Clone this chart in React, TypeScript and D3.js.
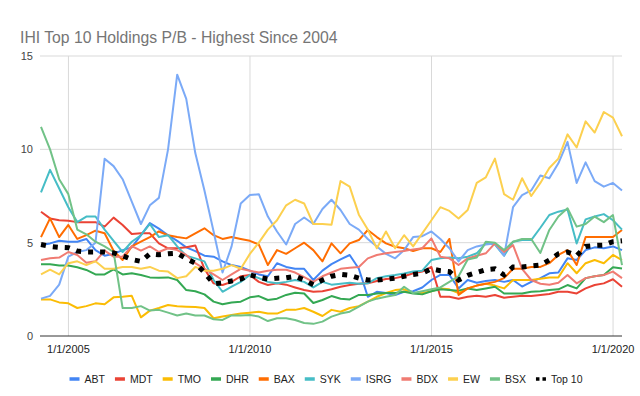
import * as d3 from "d3";

const W = 640;
const H = 396;
const PLOT = { left: 41, right: 622, top: 56, bottom: 336 };
const FONT = "'Liberation Sans', Arial, sans-serif";

// quarter-end dates, 3/31/2004 .. 3/31/2020
const FIRST_MONTH = new Date(2004, 3, 1);
const LAST_MONTH = new Date(2020, 4, 1);
const quarterEnds = d3.timeMonth
  .every(3)!
  .range(FIRST_MONTH, LAST_MONTH)
  .map((d) => d3.timeDay.offset(d, -1));

const ABT = [4.87, 4.96, 5.1, 5.05, 5.05, 5.2, 4.6, 4.3, 4.4, 4.6,
  4.75, 5.4, 6.05, 5.75, 5.4, 5.1, 4.75, 4.55, 4.3, 4.25,
  4.0, 3.8, 3.7, 3.5, 3.3, 3.2, 3.9, 3.7, 3.6, 3.6,
  3.0, 3.5, 3.85, 4.1, 4.34, 3.6, 2.1, 2.37, 2.3, 2.2,
  2.37, 2.4, 2.6, 3.0, 3.27, 3.27, 2.55, 3.0, 2.85, 2.95,
  3.0, 2.9, 3.0, 2.65, 2.9, 3.1, 3.36, 3.4, 4.16, 4.07,
  4.6, 4.75, 4.7, 4.8, 4.6];
const MDT = [6.66, 6.3, 6.2, 6.18, 6.1, 6.1, 6.1, 5.86, 6.34, 5.95,
  5.46, 5.5, 5.5, 4.96, 4.7, 4.7, 4.75, 4.85, 3.6, 2.82,
  2.73, 2.9, 3.2, 3.27, 2.9, 2.73, 2.82, 2.75, 2.6, 2.46,
  2.37, 2.4, 2.5, 2.64, 2.73, 2.8, 2.82, 2.95, 3.05, 3.1,
  3.2, 3.36, 3.45, 3.7, 2.1, 2.1, 2.0, 2.1, 2.15, 2.1,
  2.2, 2.05, 2.1, 2.15, 2.14, 2.2, 2.25, 2.37, 2.37, 2.28,
  2.55, 2.73, 2.82, 3.04, 2.64];
const TMO = [1.96, 1.96, 1.8, 1.75, 1.5, 1.6, 1.75, 1.7, 2.07, 2.1,
  2.15, 1.0, 1.36, 1.5, 1.66, 1.6, 1.57, 1.55, 1.5, 0.95,
  1.04, 1.13, 1.2, 1.25, 1.3, 1.2, 1.2, 1.4, 1.4, 1.5,
  1.3, 1.07, 1.4, 1.3, 1.5, 1.6, 1.84, 2.1, 2.3, 2.46,
  2.5, 2.3, 2.3, 2.4, 2.55, 2.5, 2.3, 2.55, 2.7, 2.8,
  2.7, 2.55, 3.0, 3.0, 3.0, 3.07, 3.14, 3.14, 3.9, 3.36,
  3.9, 4.07, 3.9, 4.34, 4.07];
const DHR = [3.84, 3.84, 3.78, 3.78, 3.68, 3.54, 3.3, 3.3, 3.57, 3.3,
  3.36, 3.27, 3.14, 3.12, 3.14, 3.0, 2.46, 2.4, 2.23, 1.84,
  1.7, 1.8, 1.84, 2.07, 2.14, 1.93, 2.0, 2.2, 2.32, 2.28,
  1.77, 1.93, 2.14, 2.0, 1.96, 2.2, 2.2, 2.28, 2.3, 2.3,
  2.37, 2.28, 2.23, 2.4, 2.5, 2.46, 2.43, 2.55, 2.46, 2.55,
  2.64, 2.28, 2.28, 2.28, 2.37, 2.4, 2.46, 2.5, 2.73, 2.55,
  3.1, 3.2, 3.27, 3.68, 3.62];
const BAX = [5.3, 6.3, 5.3, 5.95, 5.2, 5.4, 5.64, 5.5, 4.57, 4.07,
  4.8, 5.05, 5.3, 5.6, 5.4, 5.3, 5.23, 5.5, 5.77, 5.4,
  5.2, 5.3, 5.2, 5.1, 4.9, 3.8, 4.6, 4.4, 4.7, 5.0,
  4.6, 4.0, 4.96, 4.43, 4.96, 5.14, 5.68, 5.3, 4.96, 4.78,
  4.7, 4.55, 4.7, 4.7, 4.5, 5.2, 2.2, 2.55, 2.7, 2.8,
  2.9, 3.1, 3.6, 3.6, 3.7, 3.7, 3.9, 4.34, 4.6, 3.8,
  5.3, 5.3, 5.3, 5.3, 5.68];
const SYK = [7.7, 8.9, 7.9, 6.9, 6.1, 6.4, 6.4, 5.7, 5.1, 4.5,
  5.05, 5.4, 6.0, 5.3, 5.4, 4.8, 4.3, 4.16, 4.0, 3.0,
  2.37, 2.64, 2.9, 3.27, 3.1, 2.9, 2.82, 2.9, 3.0, 2.9,
  2.6, 2.9, 2.75, 2.8, 2.85, 2.8, 2.82, 3.1, 3.2, 3.27,
  3.35, 3.45, 3.5, 4.07, 4.16, 4.2, 4.16, 4.25, 4.43, 4.96,
  4.9, 4.3, 5.05, 5.14, 5.14, 5.8, 6.48, 6.66, 6.78, 4.96,
  6.25, 6.4, 6.53, 6.2, 5.7];
const ISRG = [2.0, 2.15, 2.75, 4.25, 4.5, 4.6, 5.0, 9.5, 9.1, 8.4,
  7.2, 6.0, 7.0, 7.4, 10.0, 14.0, 12.7, 9.8, 7.8, 5.6,
  3.4, 4.8, 7.1, 7.55, 7.6, 6.4, 5.6, 4.9, 6.0, 6.35,
  6.0, 6.8, 7.3, 6.75, 6.0, 5.7, 5.2, 4.8, 4.4, 4.16,
  4.6, 5.3, 5.35, 5.6, 5.2, 4.7, 4.0, 4.6, 4.8, 4.9,
  4.95, 4.3, 6.9, 7.55, 7.8, 8.6, 8.45, 9.25, 10.4, 8.2,
  9.3, 8.3, 8.0, 8.2, 7.8];
const BDX = [4.07, 4.16, 4.2, 4.5, 4.34, 3.93, 4.0, 4.57, 4.25, 4.25,
  4.82, 4.57, 4.8, 4.5, 4.7, 4.6, 4.34, 3.9, 3.6, 3.3,
  3.0, 3.3, 3.6, 3.5, 3.4, 3.5, 3.55, 3.55, 3.4, 3.15,
  2.9, 3.2, 3.4, 3.6, 3.65, 3.7, 4.16, 4.34, 4.43, 4.5,
  4.55, 4.64, 4.7, 5.23, 4.25, 4.16, 3.8, 4.16, 4.3, 4.43,
  4.96, 4.5, 4.87, 3.6, 3.0, 2.8, 2.75, 2.85, 3.27, 2.82,
  3.1, 3.2, 3.27, 3.45, 3.1];
const EW = [3.3, 3.55, 3.3, 3.9, 4.0, 3.8, 4.0, 3.6, 3.6, 3.7,
  3.7, 3.6, 3.7, 3.5, 3.45, 3.1, 3.2, 3.7, 3.5, 3.5,
  3.6, 3.8, 3.6, 4.4, 5.0, 5.7, 6.2, 7.0, 7.3, 7.1,
  6.0, 6.0, 5.96, 8.3, 8.0, 6.5, 5.7, 4.7, 5.6, 4.7,
  5.4, 4.8, 5.5, 6.2, 6.9, 6.7, 6.3, 6.75, 8.2, 8.5,
  9.5, 7.6, 7.3, 8.45, 7.5, 8.2, 9.0, 9.5, 10.8, 10.1,
  11.5, 10.9, 12.0, 11.7, 10.7];
const BSX = [11.2, 10.0, 8.4, 7.6, 5.7, 5.45, 5.05, 4.8, 4.5, 1.5,
  1.5, 1.6, 1.36, 1.4, 1.25, 1.1, 1.2, 1.1, 1.1, 0.9,
  0.86, 1.1, 1.1, 1.13, 1.04, 0.8, 0.95, 0.95, 0.86, 0.7,
  0.65, 0.77, 1.04, 1.2, 1.3, 1.57, 1.84, 2.0, 2.1, 2.2,
  2.64, 2.3, 2.4, 2.5, 2.6, 2.9, 3.2, 4.1, 4.2, 5.05,
  5.0, 4.6, 5.05, 5.2, 5.2, 4.45, 5.68, 6.4, 6.84, 5.86,
  6.0, 6.4, 6.1, 6.48, 3.8];
const TOP10 = [4.9, 4.8, 4.75, 4.73, 4.55, 4.5, 4.5, 4.5, 4.45, 4.3,
  4.1, 4.0, 4.4, 4.35, 4.4, 4.43, 4.15, 3.9, 3.4, 2.8,
  2.85, 2.95, 3.05, 3.27, 3.15, 3.05, 3.1, 3.12, 3.2, 3.0,
  2.75, 3.0, 3.2, 3.3, 3.25, 3.1, 3.0, 3.0, 3.05, 3.1,
  3.2, 3.3, 3.36, 3.6, 3.5, 3.45, 3.0, 3.25, 3.4, 3.55,
  3.6, 3.27, 3.7, 3.7, 3.75, 3.8, 4.07, 4.4, 4.5, 4.3,
  4.8, 4.85, 4.87, 5.05, 5.1];

const SERIES = [
  { name: "ABT", color: "#4285f4", values: ABT },
  { name: "MDT", color: "#ea4335", values: MDT },
  { name: "TMO", color: "#fbbc04", values: TMO },
  { name: "DHR", color: "#34a853", values: DHR },
  { name: "BAX", color: "#ff6d01", values: BAX },
  { name: "SYK", color: "#46bdc6", values: SYK },
  { name: "ISRG", color: "#7baaf7", values: ISRG },
  { name: "BDX", color: "#f07b72", values: BDX },
  { name: "EW", color: "#fcd04f", values: EW },
  { name: "BSX", color: "#71c287", values: BSX },
];

const Y_TICKS = [0, 5, 10, 15];
const X_TICK_LABELS = ["1/1/2005", "1/1/2010", "1/1/2015", "1/1/2020"];
const X_TICK_DATES = [new Date(2005, 0, 1), new Date(2010, 0, 1), new Date(2015, 0, 1), new Date(2020, 0, 1)];

const textWidth = (s: string, font: string) => {
  const ctx = document.createElement("canvas").getContext("2d")!;
  ctx.font = font;
  return ctx.measureText(s).width;
};

export default function App() {
  const x = d3
    .scaleTime()
    .domain([quarterEnds[0], quarterEnds[quarterEnds.length - 1]])
    .range([PLOT.left, PLOT.right]);
  const y = d3.scaleLinear().domain([0, 15]).range([PLOT.bottom, PLOT.top]);

  const line = d3
    .line<number>()
    .x((_, i) => x(quarterEnds[i]))
    .y((d) => y(d));

  // legend layout, centred under the plot
  const legendItems = [...SERIES.map((s) => ({ name: s.name, color: s.color, dotted: false })),
    { name: "Top 10", color: "#000", dotted: true }];
  const legendFont = `10.5px ${FONT}`;
  const SW = 10, GAP = 5, PAD = 10;
  const widths = legendItems.map((d) => SW + GAP + textWidth(d.name, legendFont));
  const total = d3.sum(widths) + PAD * (widths.length - 1);
  let cursor = (W - total) / 2 + 6;
  const legendX = widths.map((w) => {
    const at = cursor;
    cursor += w + PAD;
    return at;
  });
  const legendY = 379;

  return (
    <svg width={W} height={H} style={{ position: "absolute", left: 0, top: 0, background: "#fff" }} fontFamily={FONT}>
      <text x={20} y={43} fontSize={15.75} fill="#757575">IHI Top 10 Holdings P/B - Highest Since 2004</text>

      {Y_TICKS.filter((t) => t > 0).map((t) => (
        <line key={t} x1={PLOT.left - 1} x2={PLOT.right} y1={y(t)} y2={y(t)} stroke="#d9d9d9" />
      ))}
      {X_TICK_DATES.map((d, i) => (
        <line key={i} x1={x(d)} x2={x(d)} y1={PLOT.top} y2={PLOT.bottom} stroke="#d9d9d9" />
      ))}
      {Y_TICKS.map((t) => (
        <text key={t} x={PLOT.left - 8} y={y(t)} dy="0.35em" textAnchor="end" fontSize={11} fill="#444">{t}</text>
      ))}
      {X_TICK_DATES.map((d, i) => (
        <text key={i} x={x(d)} y={PLOT.bottom + 17} textAnchor="middle" fontSize={11} fill="#222">{X_TICK_LABELS[i]}</text>
      ))}

      <g fill="none" strokeLinejoin="round">
        {SERIES.map((s) => (
          <path key={s.name} d={line(s.values)!} stroke={s.color} strokeWidth={2} />
        ))}
        <path d={line(TOP10)!} stroke="#000" strokeWidth={5} strokeDasharray="5 7" strokeLinejoin="miter" />
      </g>

      <line x1={PLOT.left - 1} x2={PLOT.right} y1={PLOT.bottom} y2={PLOT.bottom} stroke="#333" />

      {legendItems.map((d, i) => (
        <g key={d.name} transform={`translate(${legendX[i]},${legendY})`}>
          {d.dotted ? (
            <line x1={0} x2={SW} y1={0} y2={0} stroke="#000" strokeWidth={3.5} strokeDasharray="3.5 3" />
          ) : (
            <line x1={0} x2={SW} y1={0} y2={0} stroke={d.color} strokeWidth={3.5} />
          )}
          <text x={SW + GAP} y={0} dy="0.35em" fontSize={10.5} fill="#222">{d.name}</text>
        </g>
      ))}
    </svg>
  );
}
